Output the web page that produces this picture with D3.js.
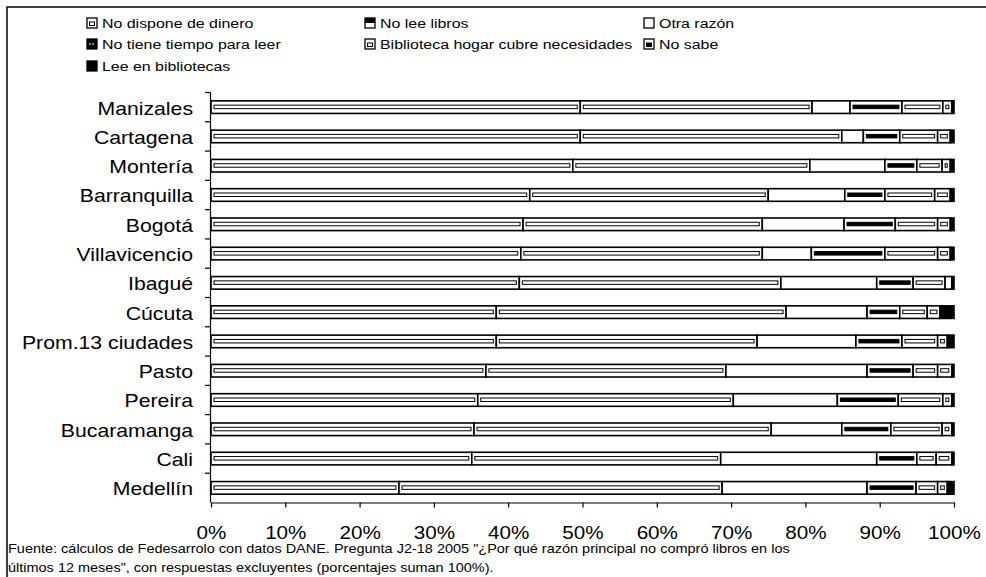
<!DOCTYPE html>
<html>
<head>
<meta charset="utf-8">
<script src="https://cdn.jsdelivr.net/npm/d3@7"></script>
<style>
  body { margin: 0; background: #fff; }
  svg { display: block; font-family: "Liberation Sans", Arial, sans-serif; }
</style>
</head>
<body>
<div id="plotarea"></div>
<script>
// ciudades (de arriba hacia abajo)
var ciudades = ["Manizales", "Cartagena", "Montería", "Barranquilla", "Bogotá", "Villavicencio", "Ibagué",
                "Cúcuta", "Prom.13 ciudades", "Pasto", "Pereira", "Bucaramanga", "Cali", "Medellín"];

var series = ["No dispone de dinero", "No lee libros", "Otra razón", "No tiene tiempo para leer",
              "Biblioteca hogar cubre necesidades", "No sabe", "Lee en bibliotecas"];

// porcentajes por serie, mismo orden que ciudades
var dinero     = [49.7, 49.7, 48.7, 42.9, 42.0, 41.7, 41.5, 38.4, 38.4, 37.0, 35.9, 35.4, 35.1, 25.3];
var noLee      = [31.2, 35.2, 31.9, 32.1, 32.2, 32.5, 35.2, 39.0, 35.1, 32.3, 34.4, 40.0, 33.5, 43.5];
var otra       = [ 5.1,  2.9, 10.1, 10.3, 11.0,  6.6, 12.9, 10.9, 13.3, 19.0, 14.0,  9.5, 21.0, 19.5];
var tiempo     = [ 7.0,  4.9,  4.3,  5.4,  6.9,  9.9,  4.9,  4.4,  6.2,  6.2,  8.2,  6.6,  5.4,  6.6];
var biblioteca = [ 5.5,  5.1,  3.4,  6.7,  5.7,  7.1,  4.3,  3.7,  4.8,  3.3,  6.0,  6.9,  2.6,  2.9];
var noSabe     = [ 1.2,  1.7,  1.1,  2.1,  1.7,  1.7,  0.9,  1.7,  1.3,  1.9,  1.2,  1.3,  2.1,  1.3];
var leeBiblio  = [ 0.3,  0.5,  0.5,  0.5,  0.5,  0.5,  0.3,  1.9,  0.9,  0.3,  0.3,  0.3,  0.3,  0.9];

var xTicks = [0, 0.1, 0.2, 0.3, 0.4, 0.5, 0.6, 0.7, 0.8, 0.9, 1.0];

var fuente1 = "Fuente: cálculos de Fedesarrolo con datos DANE. Pregunta J2-18 2005 \"¿Por qué razón principal no compró libros en los";
var fuente2 = "últimos 12 meses\", con respuestas excluyentes (porcentajes suman 100%).";

function drawChart() {
    var width = 986, height = 577;
    var stretch = 1.18; // el original esta un poco estirado en horizontal

    var columnas = [dinero, noLee, otra, tiempo, biblioteca, noSabe, leeBiblio];
    var tabla = ciudades.map(function(c, i) {
        var row = {ciudad: c};
        series.forEach(function(s, j) { row[s] = columnas[j][i] / 100; });
        return row;
    });
    var stacked = d3.stack().keys(series)(tabla);

    var x = d3.scaleLinear().domain([0, 1]).range([211, 954]);
    var y = d3.scaleBand().domain(ciudades).range([92.5, 502.5]).paddingInner(0.57).paddingOuter(0.285);

    var svg = d3.select("#plotarea").append("svg")
                .attr("width", width)
                .attr("height", height);

    // marco
    svg.append("rect")
        .attr("x", 7).attr("y", 7)
        .attr("width", width + 10).attr("height", height + 10)
        .attr("fill", "none").attr("stroke", "#000").attr("stroke-width", 1.5);

    // estilo de cada serie: relleno y rectangulo interior
    var estilo = {
        "No dispone de dinero":              {fill: "#fff", inner: "none"},
        "No lee libros":                     {fill: "#fff", inner: "none"},
        "Otra razón":                        {fill: "#fff", inner: null},
        "No tiene tiempo para leer":         {fill: "#fff", inner: "#000"},
        "Biblioteca hogar cubre necesidades":{fill: "#fff", inner: "none"},
        "No sabe":                           {fill: "#fff", inner: "none"},
        "Lee en bibliotecas":                {fill: "#000", inner: null}
    };

    var bh = y.bandwidth();

    var grupos = svg.append("g").attr("class", "bars")
        .selectAll("g")
        .data(stacked)
        .enter().append("g");

    grupos.selectAll("rect.seg")
        .data(function(d) { return d.map(function(p) { p.key = d.key; return p; }); })
        .enter().append("rect")
        .attr("class", "seg")
        .attr("x", function(d) { return x(d[0]); })
        .attr("y", function(d) { return y(d.data.ciudad); })
        .attr("width", function(d) { return x(d[1]) - x(d[0]); })
        .attr("height", bh)
        .attr("fill", function(d) { return estilo[d.key].fill; })
        .attr("stroke", "#000")
        .attr("stroke-width", 1.6);

    // rectangulo interior (la doble linea del rayado)
    grupos.filter(function(d) { return estilo[d.key].inner; })
        .selectAll("rect.inner")
        .data(function(d) { return d.filter(function(p) { return x(p[1]) - x(p[0]) > 7; }); })
        .enter().append("rect")
        .attr("class", "inner")
        .attr("x", function(d) { return x(d[0]) + 3; })
        .attr("y", function(d) { return y(d.data.ciudad) + bh / 2 - 2; })
        .attr("width", function(d) { return x(d[1]) - x(d[0]) - 6; })
        .attr("height", 3.5)
        .attr("fill", function(d) { return estilo[d.key].inner; })
        .attr("stroke", "#000")
        .attr("stroke-width", 1);

    // eje x
    var xAxis = d3.axisBottom(x).tickValues(xTicks).tickFormat(d3.format(".0%"))
                  .tickSize(5).tickSizeOuter(0).tickPadding(19);
    var gx = svg.append("g")
        .attr("transform", "translate(0,502.5)")
        .call(xAxis);
    gx.select(".domain").attr("stroke", "#000").attr("stroke-width", 1.2);
    gx.selectAll(".tick line").attr("stroke", "#000").attr("stroke-width", 1.2);
    // estirar los rotulos a lo ancho sin mover su centro
    gx.selectAll(".tick text")
        .attr("fill", "#000")
        .attr("font-size", 17.5)
        .attr("font-family", "'Liberation Sans', Arial, sans-serif")
        .attr("transform", "scale(" + stretch + ",1)")
        .attr("x", 0);

    // eje y: linea y marcas entre categorias
    var yAxis = svg.append("g").attr("class", "yAxis");
    yAxis.append("line")
        .attr("x1", 210.5).attr("x2", 210.5)
        .attr("y1", y.range()[0]).attr("y2", y.range()[1])
        .attr("stroke", "#000").attr("stroke-width", 1.2);
    var bordes = ciudades.map(function(c) { return y(c) - y.step() * y.paddingOuter(); });
    yAxis.selectAll("line.tick")
        .data(bordes)
        .enter().append("line")
        .attr("class", "tick")
        .attr("x1", 205).attr("x2", 210.5)
        .attr("y1", function(d) { return d; }).attr("y2", function(d) { return d; })
        .attr("stroke", "#000").attr("stroke-width", 1.2);

    yAxis.selectAll("text")
        .data(ciudades)
        .enter().append("text")
        .attr("text-anchor", "end")
        .attr("dominant-baseline", "central")
        .attr("font-size", 18)
        .attr("transform", function(d) {
            return "translate(193," + (y(d) + bh / 2 + 1) + ") scale(" + stretch + ",1)";
        })
        .text(function(d) { return d; });

    // leyenda
    var legPos = [[87, 23], [365, 23], [644, 23], [87, 44], [365, 44], [644, 44], [87, 66]];
    var leyenda = svg.append("g").attr("class", "legend")
        .selectAll("g")
        .data(series)
        .enter().append("g")
        .attr("transform", function(d, i) { return "translate(" + legPos[i][0] + "," + legPos[i][1] + ")"; });

    leyenda.append("rect")
        .attr("x", 0).attr("y", -5)
        .attr("width", 10).attr("height", 10)
        .attr("fill", function(d) { return (d == "Lee en bibliotecas" || d == "No tiene tiempo para leer") ? "#000" : "#fff"; })
        .attr("stroke", "#000").attr("stroke-width", 1.3);

    // marcas dentro del icono
    leyenda.filter(function(d) { return d == "No dispone de dinero" || d == "Biblioteca hogar cubre necesidades" || d == "No sabe"; })
        .append("rect")
        .attr("x", 2.5).attr("y", -1).attr("width", 5).attr("height", 3.5)
        .attr("fill", function(d) { return d == "No sabe" ? "#000" : "none"; })
        .attr("stroke", "#000").attr("stroke-width", 1);
    leyenda.filter(function(d) { return d == "No lee libros"; })
        .append("rect")
        .attr("x", 0).attr("y", -5).attr("width", 10).attr("height", 5)
        .attr("fill", "#000");
    leyenda.filter(function(d) { return d == "No tiene tiempo para leer"; })
        .append("line")
        .attr("x1", 2).attr("x2", 8).attr("y1", 0).attr("y2", 0)
        .attr("stroke", "#fff").attr("stroke-width", 1.2).attr("stroke-dasharray", "2,1");

    leyenda.append("text")
        .attr("dominant-baseline", "central")
        .attr("font-size", 13.5)
        .attr("transform", "translate(15,0.5) scale(" + stretch + ",1)")
        .text(function(d) { return d; });

    // nota de fuente
    var nota = svg.append("g").attr("font-size", 12.5).attr("fill", "#000");
    nota.append("text")
        .attr("transform", "translate(8,553) scale(1.16,1)")
        .text(fuente1);
    nota.append("text")
        .attr("transform", "translate(8,572) scale(1.16,1)")
        .text(fuente2);
}

drawChart();
</script>
</body>
</html>
